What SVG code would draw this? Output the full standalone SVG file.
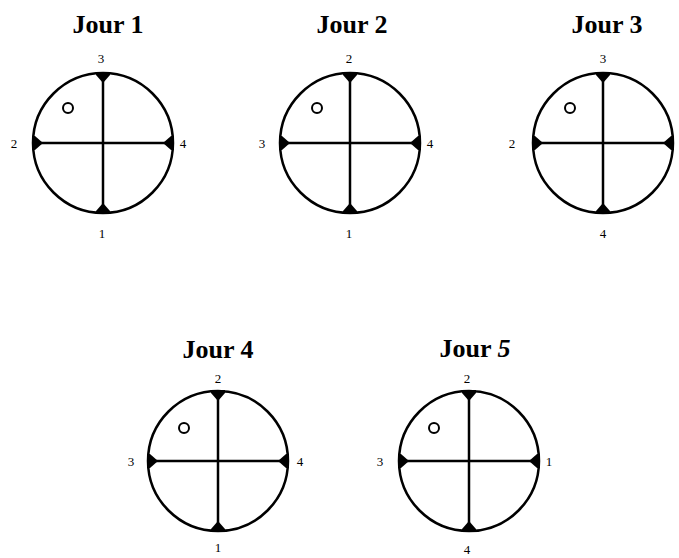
<svg xmlns="http://www.w3.org/2000/svg" width="679" height="558" viewBox="0 0 679 558">
<style>
.title{font-family:"Liberation Serif","Times New Roman",serif;font-weight:bold;font-size:26px;fill:#000;text-anchor:middle}
.lbl{font-family:"Liberation Serif","Times New Roman",serif;font-size:13px;fill:#000;text-anchor:middle}
.ring{fill:none;stroke:#000;stroke-width:2.5}
.dot{fill:none;stroke:#000;stroke-width:2}
.axis{fill:none;stroke:#000;stroke-width:2.5;marker-start:url(#tip)}
</style>
<defs>
<marker id="tip" markerUnits="userSpaceOnUse" viewBox="-2 -8 14 16" refX="0" refY="0" markerWidth="14" markerHeight="16" orient="auto">
<path d="M-1,-7 L2,-7 L10,0 L2,7 L-1,7 Z" fill="#000"/>
</marker>
<g id="wheel">
<circle class="ring" cx="0" cy="0" r="70"/>
<path class="axis" d="M0,-70 L0,0"/>
<path class="axis" d="M0,70 L0,0"/>
<path class="axis" d="M-70,0 L0,0"/>
<path class="axis" d="M70,0 L0,0"/>
</g>
</defs>
<g id="jour1">
<text class="title" x="108" y="33">Jour 1</text>
<use href="#wheel" transform="translate(103,143)"/>
<circle class="dot" cx="68" cy="108" r="5"/>
<text class="lbl" x="101" y="63">3</text>
<text class="lbl" x="14" y="148">2</text>
<text class="lbl" x="183" y="148">4</text>
<text class="lbl" x="102" y="238">1</text>
</g>
<g id="jour2">
<text class="title" x="352" y="33">Jour 2</text>
<use href="#wheel" transform="translate(350,143)"/>
<circle class="dot" cx="317" cy="108" r="5"/>
<text class="lbl" x="349" y="63">2</text>
<text class="lbl" x="262" y="148">3</text>
<text class="lbl" x="430" y="148">4</text>
<text class="lbl" x="349" y="238">1</text>
</g>
<g id="jour3">
<text class="title" x="607" y="33">Jour 3</text>
<use href="#wheel" transform="translate(603,143)"/>
<circle class="dot" cx="570" cy="108" r="5"/>
<text class="lbl" x="603" y="63">3</text>
<text class="lbl" x="512" y="148">2</text>
<text class="lbl" x="603" y="238">4</text>
</g>
<g id="jour4">
<text class="title" x="218" y="358">Jour 4</text>
<use href="#wheel" transform="translate(218,461)"/>
<circle class="dot" cx="184" cy="428" r="5"/>
<text class="lbl" x="218" y="383">2</text>
<text class="lbl" x="131" y="466">3</text>
<text class="lbl" x="300" y="466">4</text>
<text class="lbl" x="218" y="552">1</text>
</g>
<g id="jour5">
<text class="title" x="475" y="357">Jour <tspan font-style="italic">5</tspan></text>
<use href="#wheel" transform="translate(469,461)"/>
<circle class="dot" cx="434" cy="428" r="5"/>
<text class="lbl" x="467" y="383">2</text>
<text class="lbl" x="380" y="466">3</text>
<text class="lbl" x="549" y="466">1</text>
<text class="lbl" x="467" y="554">4</text>
</g>
</svg>
